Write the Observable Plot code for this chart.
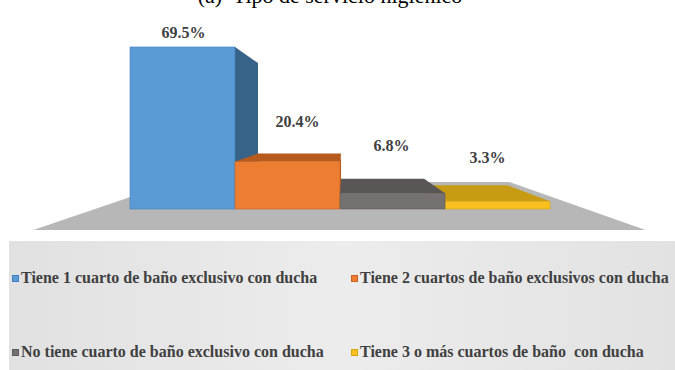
<!DOCTYPE html>
<html><head><meta charset="utf-8">
<script src="https://cdn.jsdelivr.net/npm/d3@7"></script>
<script src="https://cdn.jsdelivr.net/npm/@observablehq/plot@0.6"></script>
<style>
body{margin:0;background:#fff;width:675px;height:370px;overflow:hidden;position:relative;font-family:"Liberation Serif","Times New Roman",serif;}
#title{position:absolute;left:0;top:0;width:675px;height:12px;overflow:hidden;}
#title span{position:absolute;left:330px;top:-15px;transform:translateX(-50%);font-family:"Liberation Serif",serif;font-size:22px;line-height:22px;white-space:pre;color:#000;}
#chart{position:absolute;left:9px;top:12px;width:666px;height:229px;}
#chart svg{display:block;background:radial-gradient(ellipse 72% 120% at 53% 42%, #ffffff 0%, #f5f5f5 35%, #dddddd 75%, #c6c6c6 100%);}
#legend{position:absolute;left:9px;top:241px;width:666px;height:129px;background:linear-gradient(to right,#e1e1e1,#ececec 50%,#e2e2e2);overflow:hidden;}
.item{position:absolute;white-space:pre;font-family:"Liberation Serif",serif;font-weight:bold;font-size:16px;line-height:16px;color:#404040;}
.sw{position:absolute;width:5px;height:5px;border:1px solid;}
</style></head><body>
<div id="title"><span>(a)  Tipo de servicio higiénico</span></div>
<div id="chart"></div>
<div id="legend"></div>
<script>
const categorias = [
  "Tiene 1 cuarto de baño exclusivo con ducha",
  "Tiene 2 cuartos de baño exclusivos con ducha",
  "No tiene cuarto de baño exclusivo con ducha",
  "Tiene 3 o más cuartos de baño  con ducha"
];
const porcentajes = [69.5, 20.4, 6.8, 3.3];
const etiquetas = ["69.5%", "20.4%", "6.8%", "3.3%"];
const coloresFrente = ["#5b9bd5", "#ed7d31", "#757171", "#f9c01f"];
const coloresSombra = ["#376388", "#b65a1e", "#5a5656", "#c79c14"];
const coloresBorde = ["#3f7fbf", "#c9621f", "#5e5a5a", "#d9a30f"];

const data = categorias.map((c, i) => ({categoria: c, valor: porcentajes[i], etiqueta: etiquetas[i], i}));

// camera / perspective styling
const camDx = 5, camY = 112;
const sBack = 0.791, sFloorFront = 1.247, sFloorBack = 0.682;
const floorExtL = 35, floorExtR = 36;

function barras3d(index, scales, values, dim) {
  const {x, y} = scales;
  const bw = x.bandwidth ? x.bandwidth() : (dim.width - dim.marginLeft - dim.marginRight) / categorias.length;
  const left = dim.marginLeft, right = dim.width - dim.marginRight;
  const vx = (left + right) / 2 + camDx, vy = camY;
  const P = (px, py, s) => [vx + (px - vx) * s, vy + (py - vy) * s];
  const g = d3.create("svg:g");
  const poly = (pts, fill, stroke) => g.append("polygon")
    .attr("points", pts.map(p => p.join(",")).join(" "))
    .attr("fill", fill).attr("stroke", stroke || "none").attr("stroke-width", 0.6);
  const y0 = y(0);
  const L = left - floorExtL, R = right + floorExtR;
  poly([P(L, y0, sFloorFront), P(R, y0, sFloorFront), P(R, y0, sFloorBack), P(L, y0, sFloorBack)], "#b7b7b7");
  const order = data.slice().sort((a, b) =>
    Math.abs(x(b.categoria) + bw / 2 - vx) - Math.abs(x(a.categoria) + bw / 2 - vx));
  for (const d of order) {
    const X0 = x(d.categoria), X1 = X0 + bw, T = y(d.valor), B = y0;
    const sh = coloresSombra[d.i];
    if (X1 < vx) poly([P(X1, T, 1), P(X1, B, 1), P(X1, B, sBack), P(X1, T, sBack)], sh);
    if (X0 > vx) poly([P(X0, T, 1), P(X0, B, 1), P(X0, B, sBack), P(X0, T, sBack)], sh);
    if (T > vy) poly([P(X0, T, 1), P(X1, T, 1), P(X1, T, sBack), P(X0, T, sBack)], sh);
    poly([P(X0, T, 1), P(X1, T, 1), P(X1, B, 1), P(X0, B, 1)], coloresFrente[d.i], coloresBorde[d.i]);
  }
  return g.node();
}

// label placement tweaks (pixels)
const ajusteX = [0.5, 9.5, -1.5, -10.5];
const ajusteY = [-15, -40, -48, -44];

const chart = Plot.plot({
  width: 666,
  height: 229,
  marginLeft: 121,
  marginRight: 125,
  marginTop: 33.8,
  marginBottom: 32,
  style: {background: "none", overflow: "visible"},
  x: {type: "band", domain: categorias, padding: 0, axis: null},
  y: {domain: [0, 70], axis: null},
  marks: [
    barras3d,
    ...data.map((d, i) => Plot.text([d], {
      x: "categoria", y: "valor", text: "etiqueta",
      dx: ajusteX[i], dy: ajusteY[i],
      fontSize: 16, fontWeight: "bold", fontFamily: "Liberation Serif, serif",
      fill: "#404040"
    }))
  ]
});
document.getElementById("chart").appendChild(chart);

// legend
const legend = document.getElementById("legend");
const posLeyenda = [[3, 37], [342, 37], [3, 111], [342, 111]];
categorias.forEach((c, i) => {
  const [lx, ly] = posLeyenda[i];
  const sw = document.createElement("div");
  sw.className = "sw";
  sw.style.left = lx + "px";
  sw.style.top = (ly - 3) + "px";
  sw.style.background = coloresFrente[i];
  sw.style.borderColor = coloresBorde[i];
  legend.appendChild(sw);
  const t = document.createElement("div");
  t.className = "item";
  t.style.left = (lx + 9) + "px";
  t.style.top = (ly - 8) + "px";
  t.textContent = c;
  legend.appendChild(t);
});
</script>
</body></html>
